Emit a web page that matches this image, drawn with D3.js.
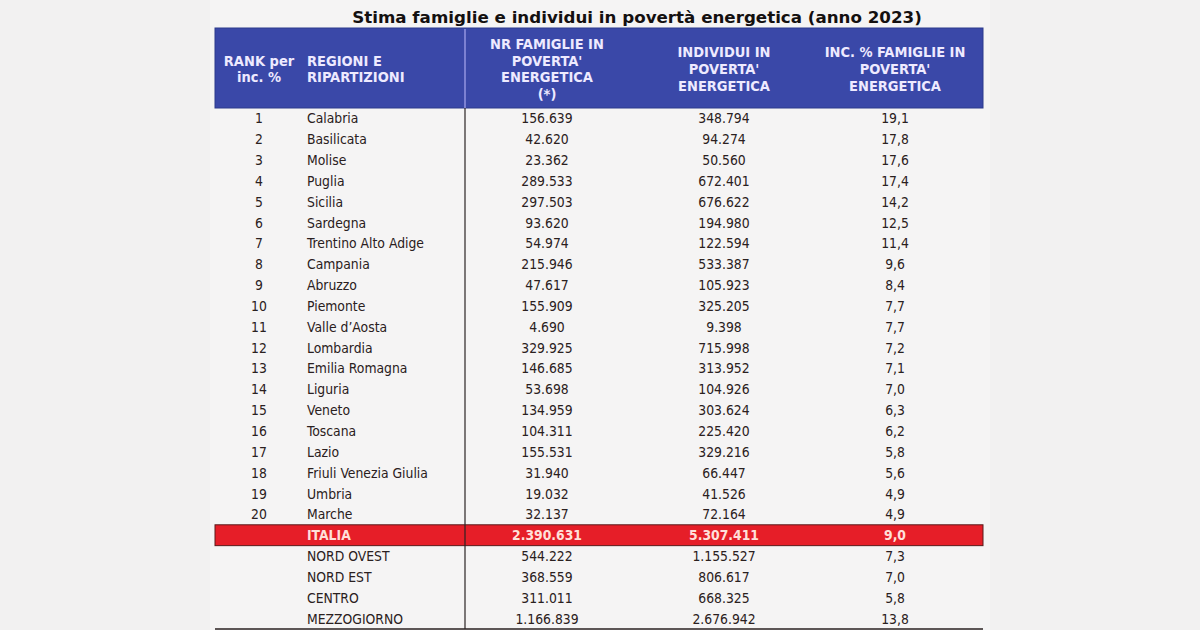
<!DOCTYPE html>
<html>
<head>
<meta charset="utf-8">
<script src="https://cdn.jsdelivr.net/npm/d3@7"></script>
<style>
  html, body { margin: 0; padding: 0; background: #f2f1f1; }
  svg { display: block; }
</style>
</head>
<body>
<svg id="chart" width="1200" height="630"></svg>
<script>
// ---- DATA ----
const title = "Stima famiglie e individui in povertà energetica (anno 2023)";
const headers = [
  ["RANK per", "inc. %"],
  ["REGIONI E", "RIPARTIZIONI"],
  ["NR FAMIGLIE IN", "POVERTA'", "ENERGETICA", "(*)"],
  ["INDIVIDUI IN", "POVERTA'", "ENERGETICA"],
  ["INC. % FAMIGLIE IN", "POVERTA'", "ENERGETICA"]
];
const ranks = ["1","2","3","4","5","6","7","8","9","10","11","12","13","14","15","16","17","18","19","20","","","","",""];
const regions = ["Calabria","Basilicata","Molise","Puglia","Sicilia","Sardegna","Trentino Alto Adige","Campania","Abruzzo","Piemonte","Valle d’Aosta","Lombardia","Emilia Romagna","Liguria","Veneto","Toscana","Lazio","Friuli Venezia Giulia","Umbria","Marche","ITALIA","NORD OVEST","NORD EST","CENTRO","MEZZOGIORNO"];
const famiglie = ["156.639","42.620","23.362","289.533","297.503","93.620","54.974","215.946","47.617","155.909","4.690","329.925","146.685","53.698","134.959","104.311","155.531","31.940","19.032","32.137","2.390.631","544.222","368.559","311.011","1.166.839"];
const individui = ["348.794","94.274","50.560","672.401","676.622","194.980","122.594","533.387","105.923","325.205","9.398","715.998","313.952","104.926","303.624","225.420","329.216","66.447","41.526","72.164","5.307.411","1.155.527","806.617","668.325","2.676.942"];
const incidenza = ["19,1","17,8","17,6","17,4","14,2","12,5","11,4","9,6","8,4","7,7","7,7","7,2","7,1","7,0","6,3","6,2","5,8","5,6","4,9","4,9","9,0","7,3","7,0","5,8","13,8"];
const highlightRow = "ITALIA";

// ---- LAYOUT ----
const svg = d3.select("#chart");
const W = 1200, H = 630;
const tableLeft = 215, tableRight = 983;
const headTop = 28, headBottom = 108, tableBottom = 629;
const sepX = 465;

const cols = [
  { x: 259, anchor: "middle" },
  { x: 307, anchor: "start" },
  { x: 547, anchor: "middle" },
  { x: 724, anchor: "middle" },
  { x: 895, anchor: "middle" }
];

const rows = regions.map((r, i) => ({
  key: r,
  cells: [ranks[i], regions[i], famiglie[i], individui[i], incidenza[i]]
}));

const y = d3.scaleBand().domain(regions).range([headBottom, tableBottom]).padding(0);

svg.append("rect").attr("x", 0).attr("y", 0).attr("width", W).attr("height", H).attr("fill", "#f2f1f1");
svg.append("rect").attr("x", 210).attr("y", 0).attr("width", 780).attr("height", H).attr("fill", "#f5f4f4");

// title
svg.append("text")
  .attr("x", 637).attr("y", 23)
  .attr("text-anchor", "middle")
  .attr("font-family", "'DejaVu Sans', sans-serif")
  .attr("font-weight", "bold")
  .attr("font-size", 16.7)
  .attr("fill", "#141010")
  .text(title);

// header
svg.append("rect")
  .attr("x", tableLeft).attr("y", headTop)
  .attr("width", tableRight - tableLeft).attr("height", headBottom - headTop)
  .attr("fill", "#3a48a8").attr("stroke", "#2c3a8c").attr("stroke-width", 1);

headers.forEach((lines, ci) => {
  const lh = 16.8;
  const mid = (headTop + headBottom) / 2 + 1;
  const start = mid - (lines.length - 1) * lh / 2;
  const t = svg.append("text")
    .attr("text-anchor", cols[ci].anchor)
    .attr("font-family", "'DejaVu Sans Condensed', 'DejaVu Sans', sans-serif")
    .attr("font-weight", "bold")
    .attr("font-size", 14.5)
    .attr("fill", "#eeeaff");
  lines.forEach((ln, li) => {
    t.append("tspan").attr("x", cols[ci].x).attr("y", start + li * lh).attr("dy", "0.35em").text(ln);
  });
});

// highlight row
svg.append("rect")
  .attr("x", tableLeft).attr("y", y(highlightRow))
  .attr("width", tableRight - tableLeft).attr("height", y.bandwidth())
  .attr("fill", "#e61e28").attr("stroke", "#5a1a1a").attr("stroke-width", 1);

// separator line
svg.append("line")
  .attr("x1", sepX).attr("x2", sepX).attr("y1", headTop + 1).attr("y2", headBottom)
  .attr("stroke", "#a9a8ee").attr("stroke-width", 1.2);
svg.append("line")
  .attr("x1", sepX).attr("x2", sepX).attr("y1", headBottom).attr("y2", tableBottom)
  .attr("stroke", "#2a2222").attr("stroke-width", 1.2);

// bottom line
svg.append("line")
  .attr("x1", tableLeft).attr("x2", tableRight).attr("y1", tableBottom).attr("y2", tableBottom)
  .attr("stroke", "#2a2222").attr("stroke-width", 1.5);

// rows
const rowG = svg.selectAll("g.row").data(rows).join("g")
  .attr("class", "row")
  .attr("transform", d => `translate(0,${y(d.key) + y.bandwidth() / 2})`);

rowG.selectAll("text").data(d => d.cells.map((c, i) => ({ c, i, hl: d.key === highlightRow }))).join("text")
  .attr("x", d => cols[d.i].x)
  .attr("y", 0)
  .attr("dy", "0.36em")
  .attr("text-anchor", d => cols[d.i].anchor)
  .attr("font-family", "'DejaVu Sans Condensed', 'DejaVu Sans', sans-serif")
  .attr("font-size", 13.8)
  .attr("font-weight", d => d.hl ? "bold" : "normal")
  .attr("fill", d => d.hl ? "#ffe0da" : "#2a2020")
  .text(d => d.c);
</script>
</body>
</html>
